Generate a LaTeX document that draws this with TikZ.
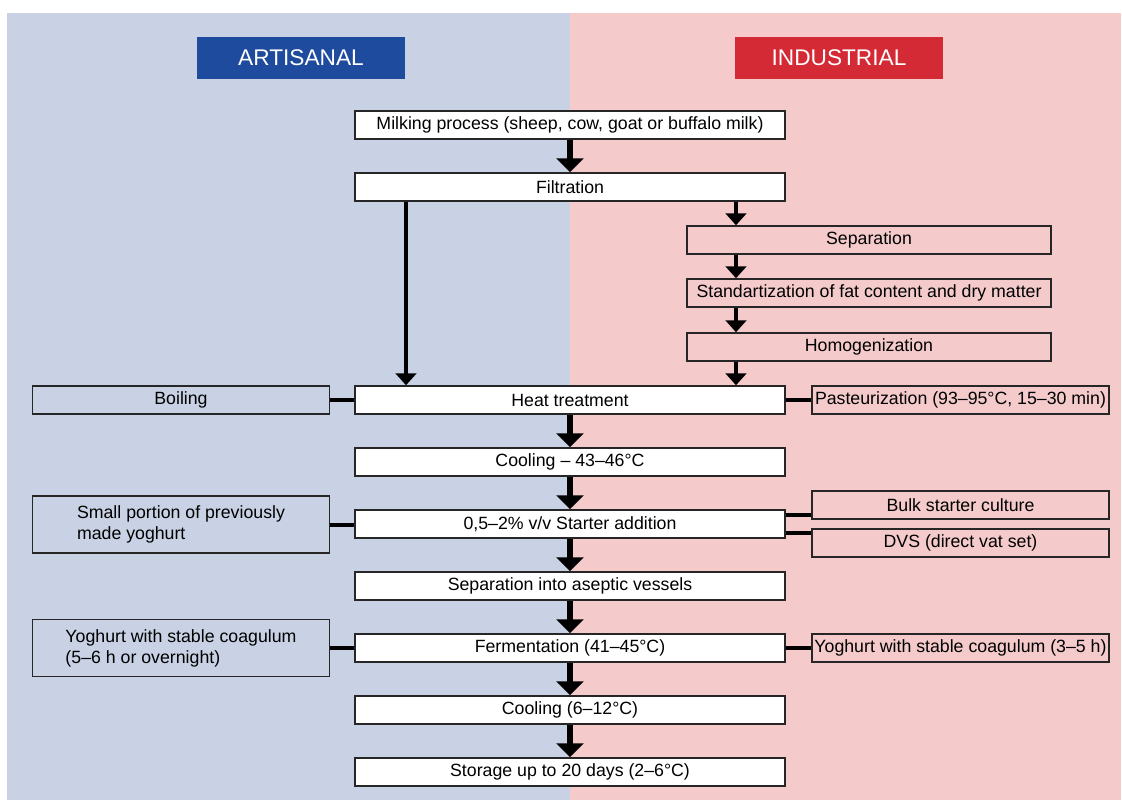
\documentclass[tikz,border=0pt]{standalone}
\usepackage{fontspec}
\setmainfont{Liberation Sans}
\usetikzlibrary{arrows.meta}
\definecolor{bgblue}{HTML}{C8D2E4}
\definecolor{bgpink}{HTML}{F4CACB}
\definecolor{hdblue}{HTML}{1F4B9E}
\definecolor{hdred}{HTML}{D42A35}
\definecolor{boxline}{HTML}{262626}
\begin{document}
\begin{tikzpicture}[x=0.75pt,y=-0.75pt,
  hdr/.style={minimum width=156pt, minimum height=31.5pt, inner sep=0pt, text=white, font=\fontsize{17}{20}\selectfont},
  box/.style={draw=boxline, line width=1.1pt, inner sep=0pt, minimum height=21pt, text=black, font=\fontsize{13.3}{15.8}\selectfont},
  mainbox/.style={box, fill=white, minimum width=322.5pt},
  indbox/.style={box, minimum width=273pt},
  sidebox/.style={box, minimum width=222.75pt},
  tallbox/.style={minimum height=42.75pt, align=left},
  bigarrow/.style={line width=4pt, -{Triangle[width=20pt,length=10.5pt]}},
  smallarrow/.style={line width=2.6pt, -{Triangle[width=15.5pt,length=9pt]}},
  link/.style={line width=3pt}]
\useasboundingbox (0,0) rectangle (1122,803);
\fill[bgblue] (7,13) rectangle (570,800);
\fill[bgpink] (570,13) rectangle (1121,800);

\node[hdr, fill=hdblue] (art) at (301,58) {ARTISANAL};
\node[hdr, fill=hdred] (ind) at (839,58) {INDUSTRIAL};

\node[mainbox] (milk) at (570,125) {Milking process (sheep, cow, goat or buffalo milk)};
\node[mainbox] (filt) at (570,187) {Filtration};
\node[indbox] (sep1) at (869,240) {Separation};
\node[indbox] (std) at (869,293) {Standartization of fat content and dry matter};
\node[indbox] (hom) at (869,347) {Homogenization};
\node[mainbox] (heat) at (570,400) {Heat treatment};
\node[mainbox] (cool1) at (570,462) {Cooling – 43–46°C};
\node[mainbox] (start) at (570,524) {0,5–2\% v/v Starter addition};
\node[mainbox] (asep) at (570,586) {Separation into aseptic vessels};
\node[mainbox] (ferm) at (570,648) {Fermentation (41–45°C)};
\node[mainbox] (cool2) at (570,710) {Cooling (6–12°C)};
\node[mainbox] (store) at (570,772) {Storage up to 20 days (2–6°C)};

\node[sidebox] (boil) at (181,400) {Boiling};
\node[sidebox, tallbox] (small) at (181,524.5) {Small portion of previously\\made yoghurt};
\node[sidebox, tallbox] (yogl) at (181,648) {Yoghurt with stable coagulum\\(5–6 h or overnight)};

\node[sidebox] (past) at (960.5,400) {Pasteurization (93–95°C, 15–30 min)};
\node[sidebox] (bulk) at (960.5,505) {Bulk starter culture};
\node[sidebox] (dvs) at (960.5,543) {DVS (direct vat set)};
\node[sidebox] (yogr) at (960.5,648) {Yoghurt with stable coagulum (3–5 h)};

\coordinate (ia) at (736,0);
\coordinate (la) at (406,0);

\draw[bigarrow] (milk.south) -- (filt.north);
\draw[bigarrow] (heat.south) -- (cool1.north);
\draw[bigarrow] (cool1.south) -- (start.north);
\draw[bigarrow] (start.south) -- (asep.north);
\draw[bigarrow] (asep.south) -- (ferm.north);
\draw[bigarrow] (ferm.south) -- (cool2.north);
\draw[bigarrow] (cool2.south) -- (store.north);

\draw[smallarrow] (filt.south -| ia) -- (sep1.north -| ia);
\draw[smallarrow] (sep1.south -| ia) -- (std.north -| ia);
\draw[smallarrow] (std.south -| ia) -- (hom.north -| ia);
\draw[smallarrow] (hom.south -| ia) -- (heat.north -| ia);
\draw[smallarrow] (filt.south -| la) -- (heat.north -| la);

\draw[link] (boil.east) -- (heat.west);
\draw[link] (small.east) -- (small.east -| start.west);
\draw[link] (yogl.east) -- (ferm.west);
\draw[link] (heat.east) -- (past.west);
\draw[link] (ferm.east) -- (yogr.west);
\draw[link] ([yshift=6.75pt]start.east) -- ([yshift=6.75pt]start.east -| bulk.west);
\draw[link] ([yshift=-6.75pt]start.east) -- ([yshift=-6.75pt]start.east -| dvs.west);
\end{tikzpicture}
\end{document}
